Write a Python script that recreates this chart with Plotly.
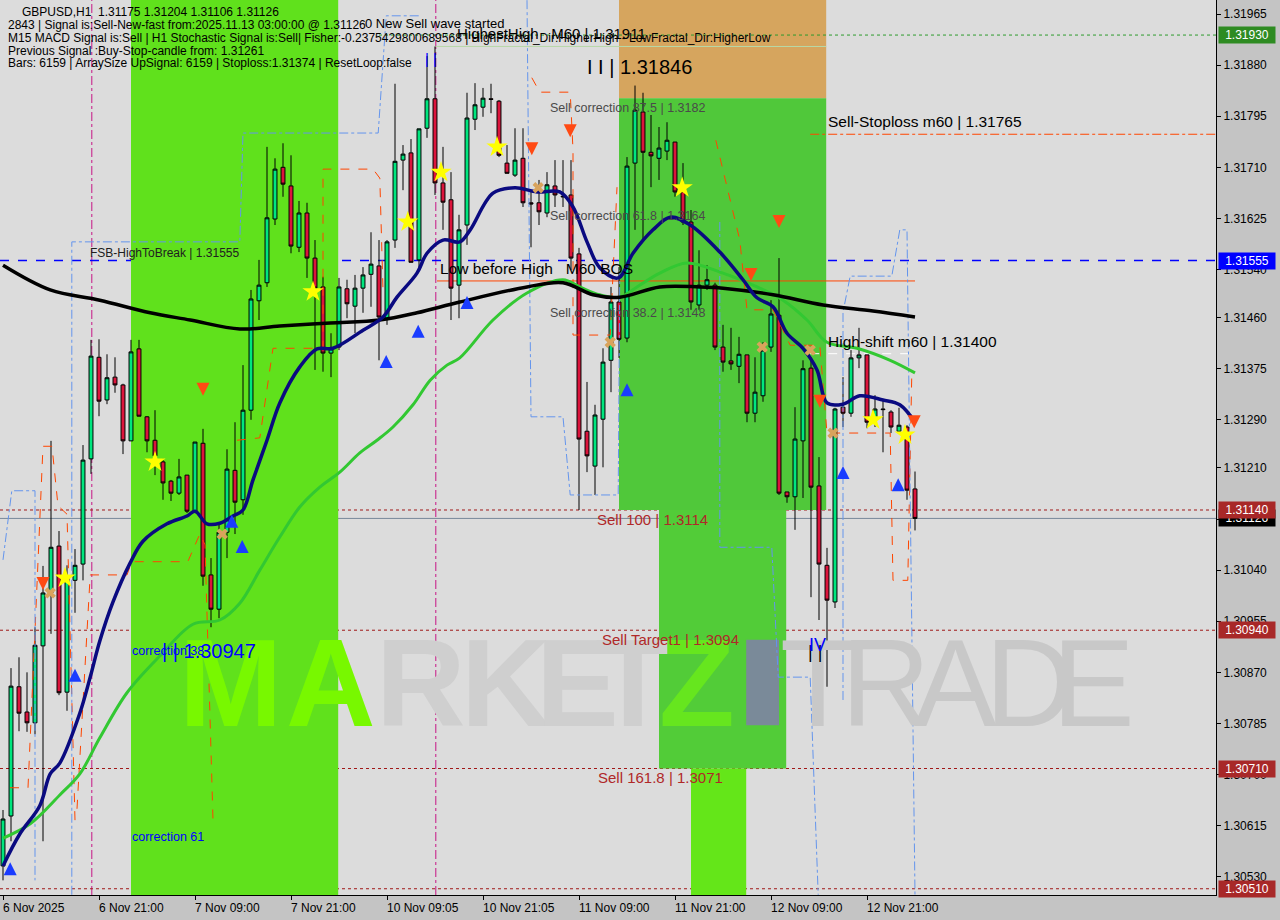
import plotly.graph_objects as go

FONT = "Liberation Sans, Arial, sans-serif"

# ---------------- data ----------------
tick_idx = [0, 12, 24, 36, 48, 60, 72, 84, 96, 108]
tick_labels = ["6 Nov 2025", "6 Nov 21:00", "7 Nov 09:00", "7 Nov 21:00", "10 Nov 09:05",
               "10 Nov 21:05", "11 Nov 09:00", "11 Nov 21:00", "12 Nov 09:00", "12 Nov 21:00"]
price_ticks = [1.31965, 1.31880, 1.31795, 1.31710, 1.31625, 1.31540, 1.31460, 1.31375, 1.31290,
               1.31210, 1.31125, 1.31040, 1.30955, 1.30870, 1.30785, 1.30700, 1.30615, 1.30530]

opens = [1.30548, 1.30631, 1.30846, 1.30804, 1.30786, 1.30914, 1.31002, 1.31080, 1.30837, 1.31023,
         1.31050, 1.31225, 1.31394, 1.31323, 1.31361, 1.31348, 1.31255, 1.31408, 1.31295, 1.31256,
         1.31220, 1.31188, 1.31168, 1.31198, 1.31138, 1.31251, 1.31032, 1.30975, 1.31103, 1.31206,
         1.31157, 1.31306, 1.31488, 1.31518, 1.31624, 1.31710, 1.31679, 1.31577, 1.31634, 1.31559,
         1.31511, 1.31401, 1.31411, 1.31508, 1.31479, 1.31509, 1.31532, 1.31546, 1.31458, 1.31589,
         1.31722, 1.31734, 1.31556, 1.31775, 1.31824, 1.31684, 1.31656, 1.31514, 1.31614, 1.31790,
         1.31810, 1.31824, 1.31820, 1.31717, 1.31697, 1.31725, 1.31651, 1.31651, 1.31634, 1.31679,
         1.31662, 1.31664, 1.31566, 1.31271, 1.31213, 1.31291, 1.31389, 1.31486, 1.31426, 1.31717,
         1.31802, 1.31735, 1.31725, 1.31737, 1.31752, 1.31669, 1.31619, 1.31481, 1.31514, 1.31514,
         1.31411, 1.31388, 1.31379, 1.31398, 1.31301, 1.31330, 1.31411, 1.31464, 1.31170, 1.31162,
         1.31255, 1.31376, 1.31180, 1.31048, 1.30987, 1.31311, 1.31301, 1.31393, 1.31398, 1.31293,
         1.31308, 1.31303, 1.31271, 1.31278, 1.31175]
highs = [1.30641, 1.30877, 1.30895, 1.30870, 1.30945, 1.31047, 1.31255, 1.31105, 1.31048, 1.31075,
         1.31248, 1.31423, 1.31424, 1.31399, 1.31394, 1.31350, 1.31423, 1.31423, 1.31296, 1.31306,
         1.31225, 1.31190, 1.31225, 1.31198, 1.31253, 1.31275, 1.31060, 1.31115, 1.31241, 1.31286,
         1.31381, 1.31506, 1.31556, 1.31744, 1.31725, 1.31750, 1.31730, 1.31654, 1.31651, 1.31589,
         1.31528, 1.31434, 1.31526, 1.31523, 1.31531, 1.31544, 1.31602, 1.31589, 1.31589, 1.31849,
         1.31747, 1.31757, 1.31774, 1.31895, 1.31911, 1.31744, 1.31702, 1.31631, 1.31834, 1.31850,
         1.31842, 1.31849, 1.31822, 1.31747, 1.31775, 1.31775, 1.31672, 1.31689, 1.31702, 1.31722,
         1.31722, 1.31722, 1.31576, 1.31353, 1.31315, 1.31409, 1.31511, 1.31544, 1.31727, 1.31846,
         1.31834, 1.31797, 1.31777, 1.31785, 1.31752, 1.31717, 1.31639, 1.31572, 1.31547, 1.31518,
         1.31448, 1.31443, 1.31428, 1.31398, 1.31394, 1.31419, 1.31489, 1.31559, 1.31170, 1.31311,
         1.31389, 1.31394, 1.31228, 1.31077, 1.31310, 1.31361, 1.31406, 1.31443, 1.31398, 1.31331,
         1.31323, 1.31306, 1.31310, 1.31281, 1.31204]
lows = [1.30524, 1.30589, 1.30772, 1.30771, 1.30767, 1.30589, 1.30934, 1.30832, 1.30806, 1.30969,
        1.31023, 1.31200, 1.31296, 1.31316, 1.31335, 1.31233, 1.31255, 1.31296, 1.31236, 1.31198,
        1.31157, 1.31155, 1.31165, 1.31135, 1.31135, 1.31014, 1.30945, 1.30960, 1.31060, 1.31100,
        1.31132, 1.31290, 1.31456, 1.31511, 1.31614, 1.31661, 1.31567, 1.31569, 1.31526, 1.31373,
        1.31370, 1.31361, 1.31406, 1.31459, 1.31434, 1.31468, 1.31478, 1.31389, 1.31448, 1.31576,
        1.31672, 1.31552, 1.31544, 1.31759, 1.31664, 1.31606, 1.31456, 1.31459, 1.31581, 1.31772,
        1.31794, 1.31800, 1.31727, 1.31700, 1.31694, 1.31644, 1.31577, 1.31614, 1.31627, 1.31644,
        1.31644, 1.31539, 1.31140, 1.31203, 1.31165, 1.31211, 1.31336, 1.31393, 1.31419, 1.31606,
        1.31589, 1.31677, 1.31689, 1.31722, 1.31661, 1.31614, 1.31473, 1.31473, 1.31506, 1.31406,
        1.31370, 1.31373, 1.31351, 1.31286, 1.31286, 1.31320, 1.31403, 1.31165, 1.31152, 1.31107,
        1.31160, 1.30995, 1.30957, 1.30846, 1.30977, 1.31278, 1.31295, 1.31376, 1.31276, 1.31278,
        1.31236, 1.31268, 1.31268, 1.31157, 1.31106]
closes = [1.30626, 1.30847, 1.30802, 1.30786, 1.30915, 1.31002, 1.31078, 1.30836, 1.31028, 1.31048,
          1.31223, 1.31396, 1.31321, 1.31360, 1.31348, 1.31255, 1.31403, 1.31296, 1.31255, 1.31230,
          1.31185, 1.31168, 1.31195, 1.31138, 1.31253, 1.31030, 1.30975, 1.31103, 1.31208, 1.31153,
          1.31306, 1.31491, 1.31514, 1.31626, 1.31707, 1.31682, 1.31579, 1.31634, 1.31559, 1.31509,
          1.31401, 1.31408, 1.31511, 1.31483, 1.31509, 1.31531, 1.31549, 1.31461, 1.31586, 1.31720,
          1.31732, 1.31552, 1.31774, 1.31824, 1.31684, 1.31652, 1.31509, 1.31606, 1.31792, 1.31814,
          1.31825, 1.31823, 1.31730, 1.31700, 1.31722, 1.31651, 1.31649, 1.31636, 1.31681, 1.31664,
          1.31661, 1.31559, 1.31258, 1.31230, 1.31298, 1.31386, 1.31486, 1.31424, 1.31712, 1.31805,
          1.31735, 1.31729, 1.31742, 1.31755, 1.31669, 1.31619, 1.31486, 1.31514, 1.31523, 1.31411,
          1.31386, 1.31383, 1.31399, 1.31301, 1.31336, 1.31406, 1.31466, 1.31168, 1.31162, 1.31258,
          1.31375, 1.31178, 1.31050, 1.30990, 1.31308, 1.31301, 1.31393, 1.31398, 1.31286, 1.31308,
          1.31307, 1.31278, 1.31281, 1.31173, 1.31126]

black_x = [0, 5.9, 12.1, 18.4, 23.4, 29.6, 34.6, 40.9, 47.1, 51.75, 57.1, 65.5, 70, 73.75, 77.1,
           82.1, 87.1, 90, 96.25, 102.5, 108.75, 114]
black_y = [1.31547, 1.31506, 1.31489, 1.31468, 1.31456, 1.31441, 1.31446, 1.31451, 1.31456, 1.31468,
           1.31486, 1.31511, 1.31518, 1.31498, 1.31494, 1.31511, 1.31511, 1.31509, 1.31498, 1.31481,
           1.31471, 1.31461]

navy_x = [0, 2.1, 4.6, 5.9, 7.1, 9.6, 10.9, 12.1, 13.75, 15.9, 17.5, 20.5, 23, 24, 25.5, 27.1, 28.75,
          30, 31.25, 33, 34.6, 37.1, 39.25, 41.25, 45, 47.5, 49.25, 51.75, 53, 55, 57.1, 58.4, 61.25,
          64, 66.75, 69.6, 71.25, 73, 74.6, 76.9, 78.75, 81.25, 83.4, 85.9, 89.6, 92.5, 94.25, 96.25,
          98, 100, 101.75, 103, 105, 107.1, 110, 112.1, 114]
navy_y = [1.30548, 1.30601, 1.30648, 1.30701, 1.30719, 1.30802, 1.30862, 1.30922, 1.30987, 1.31052,
          1.31088, 1.31117, 1.31130, 1.31138, 1.31117, 1.31118, 1.31130, 1.31140, 1.31190, 1.31256,
          1.31318, 1.31378, 1.31408, 1.31409, 1.31439, 1.31461, 1.31494, 1.31534, 1.31567, 1.31589,
          1.31586, 1.31606, 1.31667, 1.31676, 1.31669, 1.31669, 1.31644, 1.31586, 1.31543, 1.31526,
          1.31567, 1.31606, 1.31627, 1.31614, 1.31569, 1.31523, 1.31493, 1.31478, 1.31434, 1.31409,
          1.31373, 1.31318, 1.31316, 1.31330, 1.31323, 1.31315, 1.31286]

green_x = [0, 3.4, 7.1, 9.6, 12.1, 15.5, 19.6, 23.75, 27.1, 29.6, 32.1, 34.6, 37.1, 39.6, 42.1, 44.6,
           46.75, 48.75, 51.25, 53.4, 55.5, 57.1, 61.25, 65.5, 70, 72.1, 74.6, 77.1, 79.25, 82.1, 85.5,
           90, 94.25, 97.5, 100.5, 103, 106.75, 110.9, 114]
green_y = [1.30594, 1.30618, 1.30666, 1.30701, 1.30761, 1.30836, 1.30897, 1.30950, 1.30957, 1.30985,
           1.31040, 1.31095, 1.31145, 1.31178, 1.31203, 1.31235, 1.31256, 1.31278, 1.31315, 1.31356,
           1.31381, 1.31393, 1.31456, 1.31501, 1.31523, 1.31511, 1.31498, 1.31494, 1.31511, 1.31534,
           1.31551, 1.31534, 1.31511, 1.31489, 1.31456, 1.31419, 1.31409, 1.31389, 1.31368]

orange_env_1_x = [0.875, 3.125, 4, 5, 6.125, 6.875, 8, 9]
orange_env_1_y = [1.30678, 1.30678, 1.30939, 1.31246, 1.31246, 1.31147, 1.31133, 1.30624]
orange_env_2_x = [9.25, 10.9, 15.5, 16.1, 23.1, 24.6, 25.25, 26.25]
orange_env_2_y = [1.30643, 1.31032, 1.31032, 1.31054, 1.31054, 1.31100, 1.31082, 1.30624]
orange_env_3_x = [29.25, 32.1, 33.75, 40, 40, 46.25, 47.1, 47.5]
orange_env_3_y = [1.31256, 1.31260, 1.31409, 1.31409, 1.31707, 1.31707, 1.31692, 1.31506]
orange_env_4_x = [66.1, 67.1, 70.9, 71.25, 71.25, 75.9, 76.75]
orange_env_4_y = [1.31859, 1.31835, 1.31835, 1.31739, 1.31431, 1.31431, 1.31677]
orange_env_5_x = [89.1, 92.1, 93, 96.25, 98.4, 102.1, 103, 110.9, 111.25, 113.1, 113.6]
orange_env_5_y = [1.31755, 1.31589, 1.31473, 1.31473, 1.31414, 1.31414, 1.31268, 1.31268, 1.31023,
                  1.31023, 1.31368]

blue_env_1_x = [0, 1.1, 4, 4]
blue_env_1_y = [1.31057, 1.31172, 1.31172, 1.30524]
blue_env_2_x = [8.6, 8.6, 29.6, 30, 46.9, 47.5, 47.9, 52.1]
blue_env_2_y = [1.30500, 1.31586, 1.31586, 1.31767, 1.31767, 1.31889, 1.31962, 1.31962]
blue_env_3_x = [65.5, 66, 70, 70.9, 76.9, 77.1]
blue_env_3_y = [1.31988, 1.31295, 1.31295, 1.31165, 1.31165, 1.31539]
blue_env_4_x = [89.6, 89.6, 96.1, 96.9, 100.9, 101.9]
blue_env_4_y = [1.31619, 1.31078, 1.31078, 1.30862, 1.30862, 1.30500]
blue_env_5_x = [105, 105, 105.9, 111.1, 112.1, 113, 114]
blue_env_5_y = [1.30824, 1.31469, 1.31529, 1.31529, 1.31606, 1.31606, 1.30500]

up_x = [0.9, 9, 28.6, 29.9, 47.9, 51.9, 58, 78, 105, 111.9]
up_y = [1.30554, 1.30876, 1.31132, 1.31090, 1.31398, 1.31448, 1.31496, 1.31351, 1.31213, 1.31193]
down_x = [5, 25, 66.1, 70.9, 93.5, 97, 102.1, 113.9]
down_y = [1.31007, 1.31330, 1.31730, 1.31760, 1.31521, 1.31609, 1.31310, 1.31276]
star_x = [7.75, 19, 38.75, 50.6, 54.75, 61.75, 84.9, 108.75, 112.75]
star_y = [1.31027, 1.31220, 1.31503, 1.31619, 1.31702, 1.31744, 1.31676, 1.31290, 1.31265]
cross_x = [5.9, 27.4, 66.9, 75.9, 94.9, 100.9, 103.75]
cross_y = [1.31002, 1.31100, 1.31676, 1.31419, 1.31411, 1.31406, 1.31268]

# zones: (x0 idx, x1 idx, price bottom, price top, colour) - None means chart edge
zones = [
    (16.0, 41.9, None, None, "#60e11c"),
    (77.0, 102.9, 1.31825, None, "#d6a55e"),
    (77.0, 102.9, 1.31140, 1.31825, "#50c83a"),
    (82.0, 97.9, 1.30710, 1.31140, "#52cc38"),
    (86.0, 92.9, None, 1.30710, "#64e619"),
    (92.9, 97.0, 1.30782, 1.30924, "#7a8a99"),
]

level_fsb = 1.31555
level_green = 1.31930
level_highest = 1.31911
level_stoploss = 1.31765
level_bos = 1.31521
level_highshift = 1.31400
level_current = 1.31126
red_levels = [1.31140, 1.30940, 1.30710, 1.30510]
separator_idx = [11.1, 35.1, 54.1]

# ---------------- figure ----------------
X0, X1 = -0.375, 151.625
Y0, Y1 = 1.304996, 1.319883
PW, PH = 1216, 895

fig = go.Figure()

# zones
for x0, x1, yb, yt, col in zones:
    fig.add_shape(type="rect", xref="x", yref="y", x0=x0, x1=x1,
                  y0=Y0 if yb is None else yb, y1=Y1 if yt is None else yt,
                  fillcolor=col, line=dict(width=0), layer="below")

# watermark letters (positioned in pixels, coloured like the background they sit on)
wm_letters = [("M", 230, "#78f800", True), ("A", 331, "#78f800", True), ("R", 421, "#cfcfcf", True),
              ("K", 506, "#cfcfcf", True), ("E", 577, "#cfcfcf", True), ("T", 633, "#cfcfcf", True),
              ("Z", 697, "#66e61e", True),
              ("T", 818, "#c8c8c8", False), ("R", 886, "#c8c8c8", False), ("A", 955, "#c8c8c8", False),
              ("D", 1030, "#c8c8c8", False), ("E", 1093, "#c8c8c8", False)]
for ch, cx, col, bold in wm_letters:
    fig.add_annotation(x=cx / PW, y=1 - 683 / PH, xref="paper", yref="paper",
                       text=f"<b>{ch}</b>" if bold else ch, showarrow=False,
                       xanchor="center", yanchor="middle",
                       font=dict(family=FONT, size=124, color=col))

# separators
for sx in separator_idx:
    fig.add_shape(type="line", xref="x", yref="paper", x0=sx, x1=sx, y0=0, y1=1,
                  line=dict(color="#c71585", width=1, dash="dashdot"), layer="below")

# horizontal levels
for lv in red_levels:
    fig.add_shape(type="line", xref="paper", yref="y", x0=0, x1=1, y0=lv, y1=lv,
                  line=dict(color="#a01818", width=1, dash="dot"), layer="below")
fig.add_shape(type="line", xref="paper", yref="y", x0=0, x1=1, y0=level_fsb, y1=level_fsb,
              line=dict(color="#0000ff", width=1.3, dash="dash"), layer="below")
fig.add_shape(type="line", xref="x", yref="y", x0=47, x1=X1, y0=level_green, y1=level_green,
              line=dict(color="#2e9b2e", width=1, dash="dot"), layer="below")
fig.add_shape(type="line", xref="x", yref="y", x0=54, x1=102.9, y0=level_highest, y1=level_highest,
              line=dict(color="#b8d8a8", width=1), layer="below")
fig.add_shape(type="line", xref="x", yref="y", x0=100.9, x1=X1, y0=level_stoploss, y1=level_stoploss,
              line=dict(color="#ff4500", width=1, dash="dashdot"), layer="below")
fig.add_shape(type="line", xref="x", yref="y", x0=54.25, x1=114, y0=level_bos, y1=level_bos,
              line=dict(color="#ff4500", width=1), layer="below")
fig.add_shape(type="line", xref="x", yref="y", x0=100.9, x1=114, y0=level_highshift, y1=level_highshift,
              line=dict(color="#ffffff", width=1, dash="dash"), layer="below")
fig.add_shape(type="line", xref="paper", yref="y", x0=0, x1=1, y0=level_current, y1=level_current,
              line=dict(color="#778899", width=1), layer="below")

# envelopes
for xs, ys in [(orange_env_1_x, orange_env_1_y), (orange_env_2_x, orange_env_2_y),
               (orange_env_3_x, orange_env_3_y), (orange_env_4_x, orange_env_4_y),
               (orange_env_5_x, orange_env_5_y)]:
    fig.add_trace(go.Scatter(x=xs, y=ys, mode="lines", line=dict(color="#ff4500", width=1, dash="dash"),
                             hoverinfo="skip", showlegend=False))
for xs, ys in [(blue_env_1_x, blue_env_1_y), (blue_env_2_x, blue_env_2_y), (blue_env_3_x, blue_env_3_y),
               (blue_env_4_x, blue_env_4_y), (blue_env_5_x, blue_env_5_y)]:
    fig.add_trace(go.Scatter(x=xs, y=ys, mode="lines", line=dict(color="#6495ed", width=1, dash="dashdot"),
                             hoverinfo="skip", showlegend=False))

# candles
fig.add_trace(go.Candlestick(
    x=list(range(len(opens))), open=opens, high=highs, low=lows, close=closes,
    increasing=dict(line=dict(color="black", width=1), fillcolor="#00e67e"),
    decreasing=dict(line=dict(color="black", width=1), fillcolor="#dc143c"),
    whiskerwidth=0, showlegend=False, hoverinfo="skip"))

# moving averages
fig.add_trace(go.Scatter(x=green_x, y=green_y, mode="lines", line=dict(color="#32c832", width=3, shape="spline"),
                         hoverinfo="skip", showlegend=False))
fig.add_trace(go.Scatter(x=black_x, y=black_y, mode="lines", line=dict(color="#000000", width=3.5, shape="spline"),
                         hoverinfo="skip", showlegend=False))
fig.add_trace(go.Scatter(x=navy_x, y=navy_y, mode="lines", line=dict(color="#0a0a80", width=3.5, shape="spline"),
                         hoverinfo="skip", showlegend=False))

# signal markers
fig.add_trace(go.Scatter(x=cross_x, y=cross_y, mode="markers",
                         marker=dict(symbol="x", size=10, color="#d9a35c", line=dict(width=0)),
                         hoverinfo="skip", showlegend=False))
fig.add_trace(go.Scatter(x=star_x, y=star_y, mode="markers",
                         marker=dict(symbol="star", size=16, color="#ffff00", line=dict(width=0)),
                         hoverinfo="skip", showlegend=False))
fig.add_trace(go.Scatter(x=up_x, y=up_y, mode="markers",
                         marker=dict(symbol="arrow-up", size=13, color="#1a3cff", line=dict(width=0)),
                         hoverinfo="skip", showlegend=False))
fig.add_trace(go.Scatter(x=down_x, y=down_y, mode="markers",
                         marker=dict(symbol="arrow-down", size=13, color="#ff4a14", line=dict(width=0)),
                         hoverinfo="skip", showlegend=False))


def txt(xp, yp, s, size, color, family=FONT):
    fig.add_annotation(x=xp / PW, y=1 - yp / PH, xref="paper", yref="paper", text=s, showarrow=False,
                       xanchor="left", yanchor="middle", font=dict(family=family, size=size, color=color))


# header
txt(20, 12, "GBPUSD,H1  1.31175 1.31204 1.31106 1.31126", 12, "#000000")
txt(6, 25, "2843 | Signal is:Sell-New-fast from:2025.11.13 03:00:00 @ 1.31126", 12, "#000000")
txt(6, 38, "M15 MACD Signal is:Sell | H1 Stochastic Signal is:Sell| Fisher:-0.2375429800689568 | "
           "HighFractal_Dir:HigherHigh - LowFractal_Dir:HigherLow", 12, "#000000")
txt(6, 51, "Previous Signal :Buy-Stop-candle from: 1.31261", 12, "#000000")
txt(6, 63, "Bars: 6159 | ArraySize UpSignal: 6159 | Stoploss:1.31374 | ResetLoop:false", 12, "#000000")

# chart texts
txt(363, 23, "0 New Sell wave started", 13, "#000000")
txt(455, 33, "HighestHigh   M60 | 1.31911", 15, "#000000")
txt(423, 58, "| |", 15, "#0000ff")
txt(585, 67, "I I | 1.31846", 20, "#000000")
txt(548, 108, "Sell correction 87.5 | 1.3182", 12.5, "#4a4a4a")
txt(826, 121, "Sell-Stoploss m60 | 1.31765", 15.5, "#000000")
txt(548, 216, "Sell correction 61.8 | 1.3164", 12.5, "#4a4a4a")
txt(88, 253, "FSB-HighToBreak | 1.31555", 12, "#202020")
txt(438, 269, "Low before High   M60 BOS", 15.5, "#000000")
txt(548, 313, "Sell correction 38.2 | 1.3148", 12.5, "#4a4a4a")
txt(826, 341, "High-shift m60 | 1.31400", 15.5, "#000000")
txt(595, 519, "Sell 100 | 1.3114", 15, "#b02828")
txt(600, 639, "Sell Target1 | 1.3094", 15, "#b02828")
txt(596, 777, "Sell 161.8 | 1.3071", 15, "#b02828")
txt(130, 651, "correction 38", 12.5, "#0000ff")
txt(160, 651, "| | 1.30947", 20, "#0000ff")
txt(130, 837, "correction 61", 12.5, "#0000ff")
txt(806, 652, "| |", 18, "#000000")
txt(807, 645, "IV", 18, "#0000ff")

# x-axis labels (left aligned at tick)
for ti, tl in zip(tick_idx, tick_labels):
    fig.add_annotation(x=ti, y=0, xref="x", yref="paper", text=tl, showarrow=False, xanchor="left",
                       yanchor="top", xshift=-2, yshift=-4, font=dict(family=FONT, size=12, color="#000000"))


# right-side price boxes
def pbox(price, bg, fg="#ffffff"):
    fig.add_annotation(x=1, y=price, xref="paper", yref="y", text=f"{price:.5f}", showarrow=False,
                       xanchor="left", yanchor="middle", xshift=2, bgcolor=bg, borderpad=1, width=54,
                       font=dict(family=FONT, size=12, color=fg))


pbox(level_green, "#2e8b22")
pbox(level_fsb, "#0000ff")
pbox(level_current, "#000000")
for lv in red_levels:
    pbox(lv, "#a82828")

fig.update_layout(
    width=1280, height=920, autosize=False,
    margin=dict(l=0, r=64, t=0, b=25),
    paper_bgcolor="#c4c4c4", plot_bgcolor="#dcdcdc",
    showlegend=False,
    xaxis=dict(range=[X0, X1], showgrid=False, zeroline=False, tickvals=tick_idx,
               showticklabels=False, ticks="outside", ticklen=4, tickcolor="#000000",
               showline=True, linecolor="#000000", linewidth=1, rangeslider=dict(visible=False),
               fixedrange=True),
    yaxis=dict(range=[Y0, Y1], side="right", showgrid=False, zeroline=False, tickvals=price_ticks,
               ticktext=[f"{v:.5f}" for v in price_ticks], ticks="outside", ticklen=4,
               tickcolor="#000000", showline=True, linecolor="#000000", linewidth=1,
               tickfont=dict(family=FONT, size=12, color="#000000"), fixedrange=True),
)

fig.write_html("out.html", config={"displayModeBar": False},
               post_script="document.body.style.margin='0px';document.body.style.overflow='hidden';")
